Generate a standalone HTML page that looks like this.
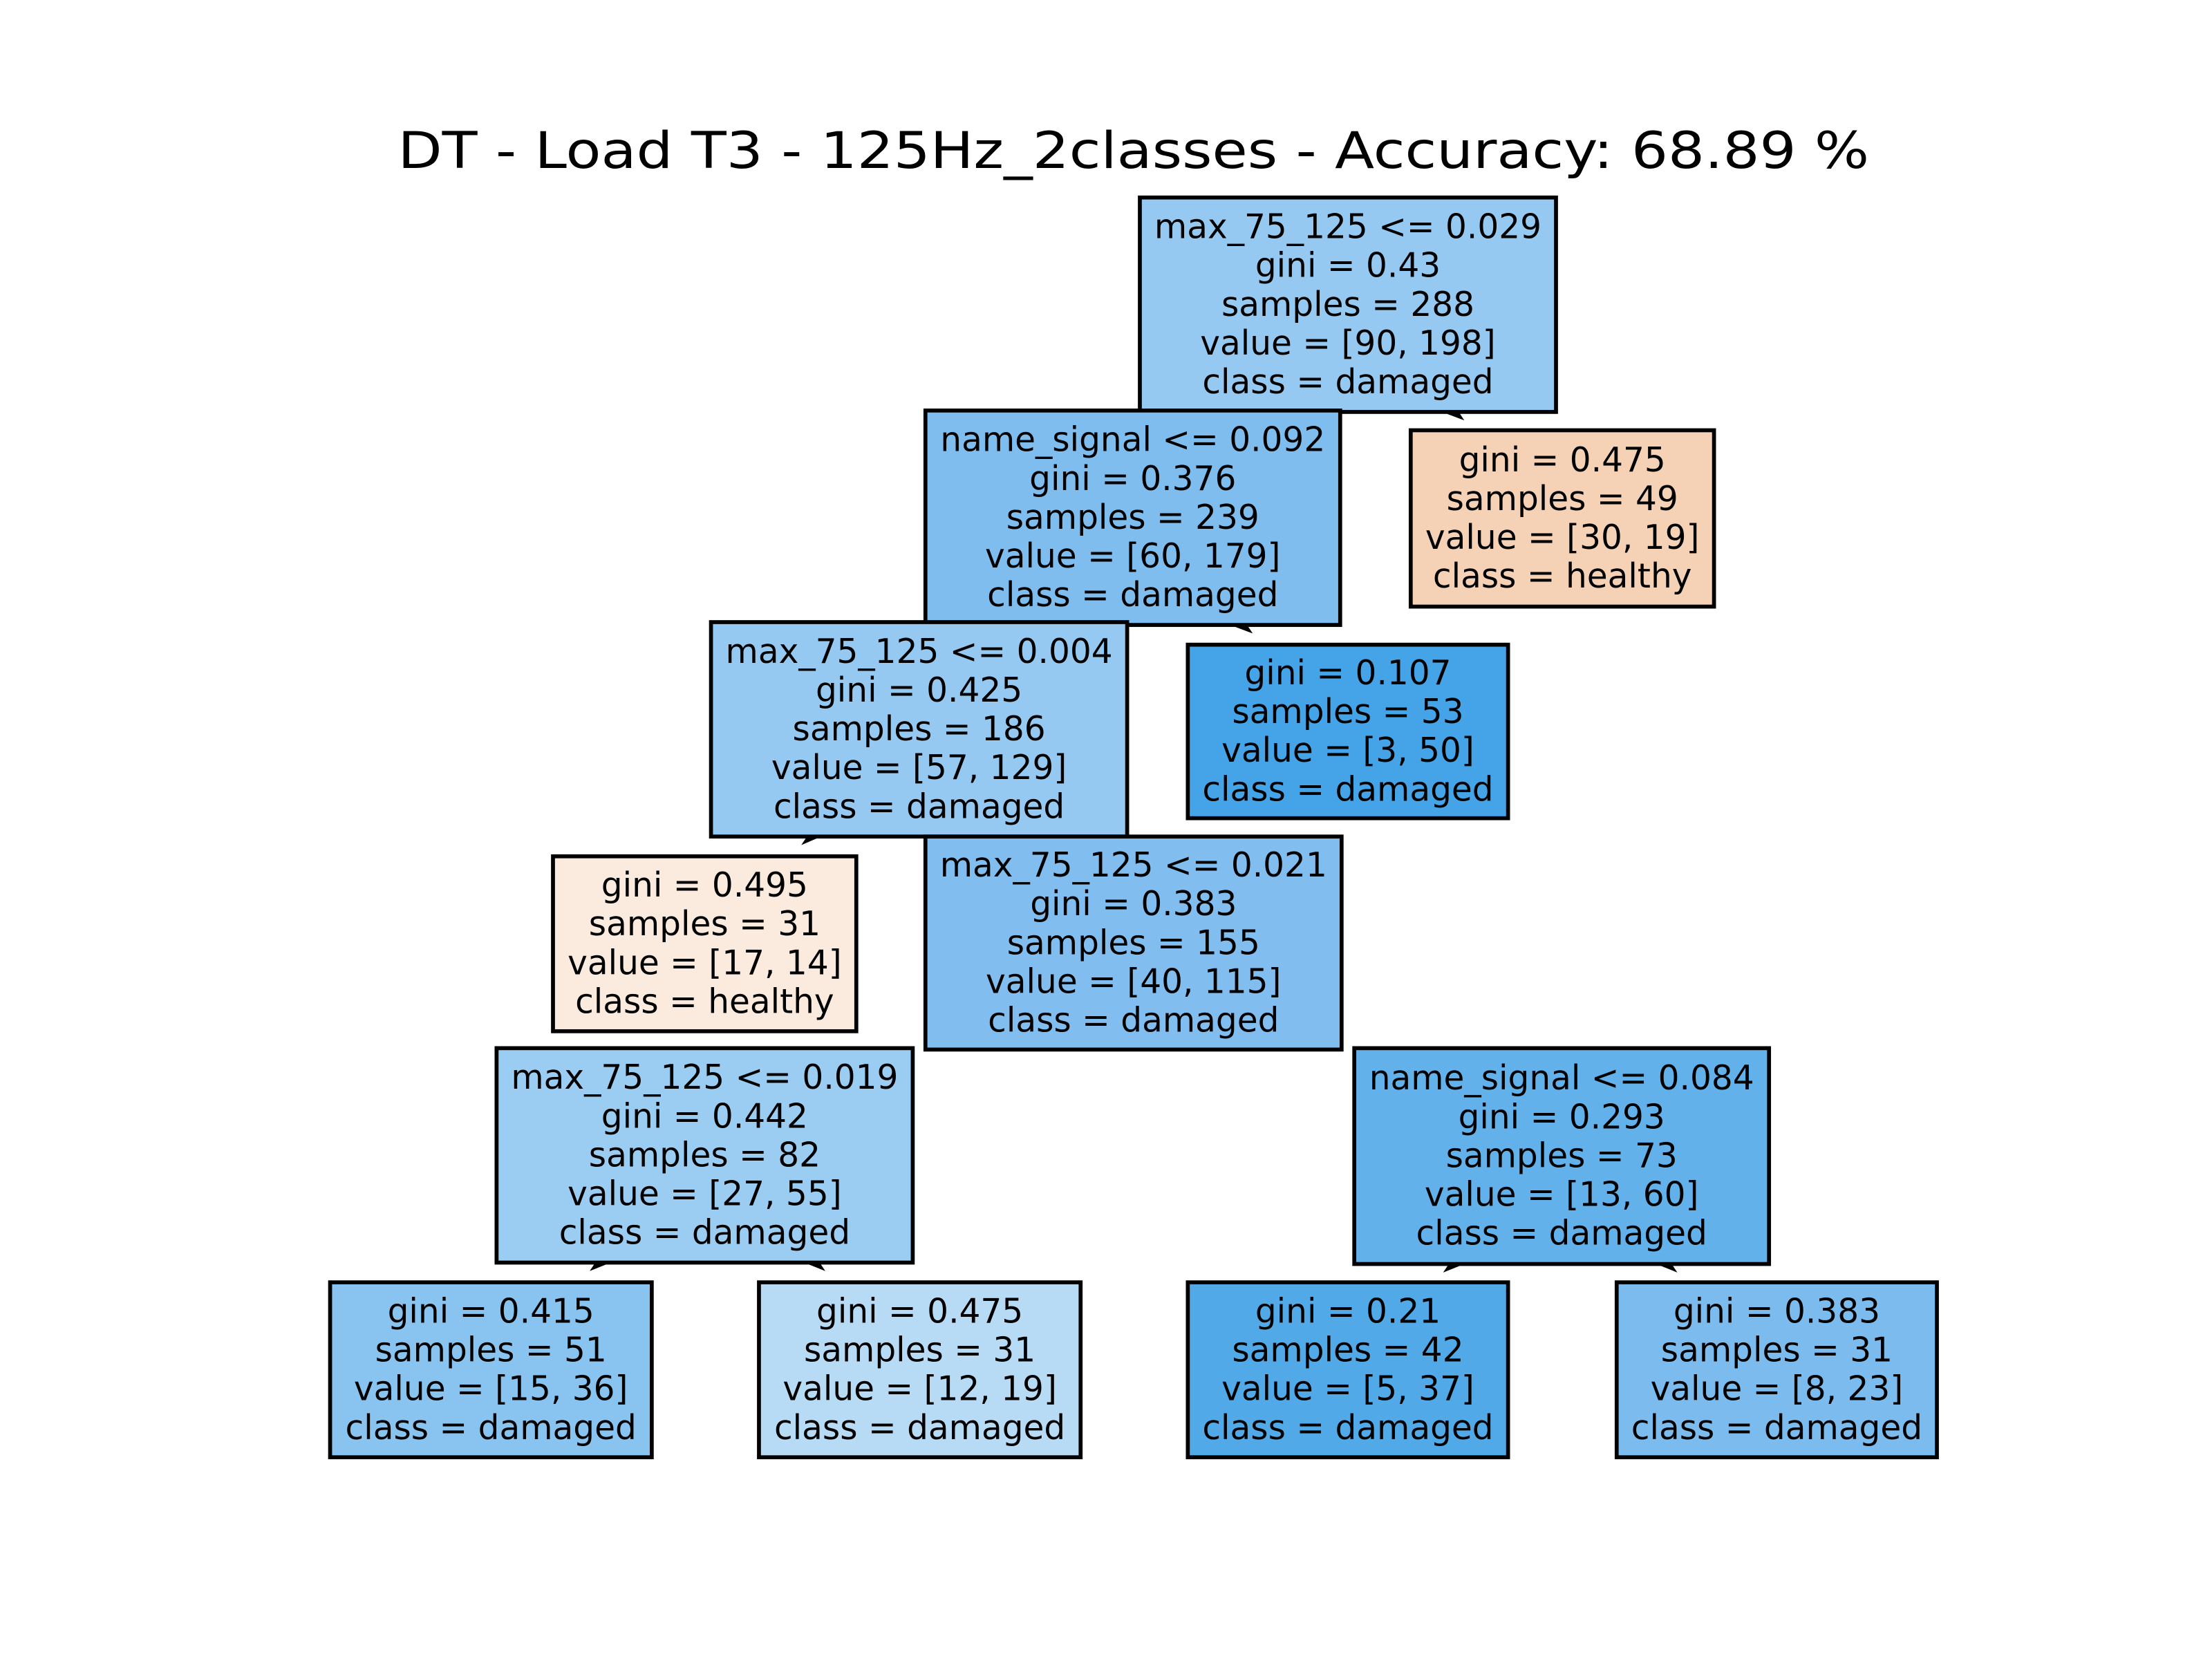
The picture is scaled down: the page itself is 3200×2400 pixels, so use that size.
<!DOCTYPE html>
<html><head><meta charset="utf-8"><style>
html,body{margin:0;padding:0;background:#fff;}
svg{display:block;}
text{font-family:"DejaVu Sans","Liberation Sans",sans-serif;fill:#000;}
</style></head><body>
<svg width="3200" height="2400" viewBox="0 0 1568 1176" xmlns="http://www.w3.org/2000/svg">
<rect width="1568" height="1176" fill="#fff"/>
<text x="803.5" y="107" font-size="36" text-anchor="middle" dominant-baseline="central" textLength="1043" lengthAdjust="spacingAndGlyphs">DT - Load T3 - 125Hz_2classes - Accuracy: 68.89 %</text>
<g fill="#000">
<polygon points="1022,292 1038,298 1034,292"/>
<polygon points="872,443 888,449 884,443"/>
<polygon points="582,593 568,599 572,593"/>
<polygon points="433,895 418,901 422,895"/>
<polygon points="570,895 585,901 581,895"/>
<polygon points="1038,896 1023,902 1027,896"/>
<polygon points="1174,896 1189,902 1185,896"/>
</g>
<g stroke="#000" stroke-width="2.8" font-size="23.8" text-anchor="middle">
<g><rect x="808" y="140" width="295" height="152" fill="#95c9f1"/>
<text stroke="none" x="955.5" y="216" dominant-baseline="central"><tspan x="955.5" dy="-55">max_75_125 &lt;= 0.029</tspan><tspan x="955.5" dy="27.5">gini = 0.43</tspan><tspan x="955.5" dy="27.5">samples = 288</tspan><tspan x="955.5" dy="27.5">value = [90, 198]</tspan><tspan x="955.5" dy="27.5">class = damaged</tspan></text></g>
<g><rect x="656" y="291" width="294" height="152" fill="#7fbdee"/>
<text stroke="none" x="803" y="367" dominant-baseline="central"><tspan x="803" dy="-55">name_signal &lt;= 0.092</tspan><tspan x="803" dy="27.5">gini = 0.376</tspan><tspan x="803" dy="27.5">samples = 239</tspan><tspan x="803" dy="27.5">value = [60, 179]</tspan><tspan x="803" dy="27.5">class = damaged</tspan></text></g>
<g><rect x="1000" y="305" width="215" height="125" fill="#f5d2b5"/>
<text stroke="none" x="1107.5" y="367.5" dominant-baseline="central"><tspan x="1107.5" dy="-41.25">gini = 0.475</tspan><tspan x="1107.5" dy="27.5">samples = 49</tspan><tspan x="1107.5" dy="27.5">value = [30, 19]</tspan><tspan x="1107.5" dy="27.5">class = healthy</tspan></text></g>
<g><rect x="504" y="441" width="295" height="152" fill="#95c9f1"/>
<text stroke="none" x="651.5" y="517" dominant-baseline="central"><tspan x="651.5" dy="-55">max_75_125 &lt;= 0.004</tspan><tspan x="651.5" dy="27.5">gini = 0.425</tspan><tspan x="651.5" dy="27.5">samples = 186</tspan><tspan x="651.5" dy="27.5">value = [57, 129]</tspan><tspan x="651.5" dy="27.5">class = damaged</tspan></text></g>
<g><rect x="842" y="457" width="227" height="123" fill="#45a3e7"/>
<text stroke="none" x="955.5" y="518.5" dominant-baseline="central"><tspan x="955.5" dy="-41.25">gini = 0.107</tspan><tspan x="955.5" dy="27.5">samples = 53</tspan><tspan x="955.5" dy="27.5">value = [3, 50]</tspan><tspan x="955.5" dy="27.5">class = damaged</tspan></text></g>
<g><rect x="392" y="607" width="215" height="124" fill="#fbeade"/>
<text stroke="none" x="499.5" y="669" dominant-baseline="central"><tspan x="499.5" dy="-41.25">gini = 0.495</tspan><tspan x="499.5" dy="27.5">samples = 31</tspan><tspan x="499.5" dy="27.5">value = [17, 14]</tspan><tspan x="499.5" dy="27.5">class = healthy</tspan></text></g>
<g><rect x="656" y="593" width="295" height="151" fill="#81bdee"/>
<text stroke="none" x="803.5" y="668.5" dominant-baseline="central"><tspan x="803.5" dy="-55">max_75_125 &lt;= 0.021</tspan><tspan x="803.5" dy="27.5">gini = 0.383</tspan><tspan x="803.5" dy="27.5">samples = 155</tspan><tspan x="803.5" dy="27.5">value = [40, 115]</tspan><tspan x="803.5" dy="27.5">class = damaged</tspan></text></g>
<g><rect x="352" y="743" width="295" height="152" fill="#9bccf2"/>
<text stroke="none" x="499.5" y="819" dominant-baseline="central"><tspan x="499.5" dy="-55">max_75_125 &lt;= 0.019</tspan><tspan x="499.5" dy="27.5">gini = 0.442</tspan><tspan x="499.5" dy="27.5">samples = 82</tspan><tspan x="499.5" dy="27.5">value = [27, 55]</tspan><tspan x="499.5" dy="27.5">class = damaged</tspan></text></g>
<g><rect x="960" y="743" width="294" height="153" fill="#63b1eb"/>
<text stroke="none" x="1107" y="819.5" dominant-baseline="central"><tspan x="1107" dy="-55">name_signal &lt;= 0.084</tspan><tspan x="1107" dy="27.5">gini = 0.293</tspan><tspan x="1107" dy="27.5">samples = 73</tspan><tspan x="1107" dy="27.5">value = [13, 60]</tspan><tspan x="1107" dy="27.5">class = damaged</tspan></text></g>
<g><rect x="234" y="909" width="228" height="124" fill="#88c4ef"/>
<text stroke="none" x="348" y="971" dominant-baseline="central"><tspan x="348" dy="-41.25">gini = 0.415</tspan><tspan x="348" dy="27.5">samples = 51</tspan><tspan x="348" dy="27.5">value = [15, 36]</tspan><tspan x="348" dy="27.5">class = damaged</tspan></text></g>
<g><rect x="538" y="909" width="228" height="124" fill="#b7dbf5"/>
<text stroke="none" x="652" y="971" dominant-baseline="central"><tspan x="652" dy="-41.25">gini = 0.475</tspan><tspan x="652" dy="27.5">samples = 31</tspan><tspan x="652" dy="27.5">value = [12, 19]</tspan><tspan x="652" dy="27.5">class = damaged</tspan></text></g>
<g><rect x="842" y="909" width="227" height="124" fill="#51a9e8"/>
<text stroke="none" x="955.5" y="971" dominant-baseline="central"><tspan x="955.5" dy="-41.25">gini = 0.21</tspan><tspan x="955.5" dy="27.5">samples = 42</tspan><tspan x="955.5" dy="27.5">value = [5, 37]</tspan><tspan x="955.5" dy="27.5">class = damaged</tspan></text></g>
<g><rect x="1146" y="909" width="227" height="124" fill="#7cbbed"/>
<text stroke="none" x="1259.5" y="971" dominant-baseline="central"><tspan x="1259.5" dy="-41.25">gini = 0.383</tspan><tspan x="1259.5" dy="27.5">samples = 31</tspan><tspan x="1259.5" dy="27.5">value = [8, 23]</tspan><tspan x="1259.5" dy="27.5">class = damaged</tspan></text></g>
</g>
</svg>
</body></html>
